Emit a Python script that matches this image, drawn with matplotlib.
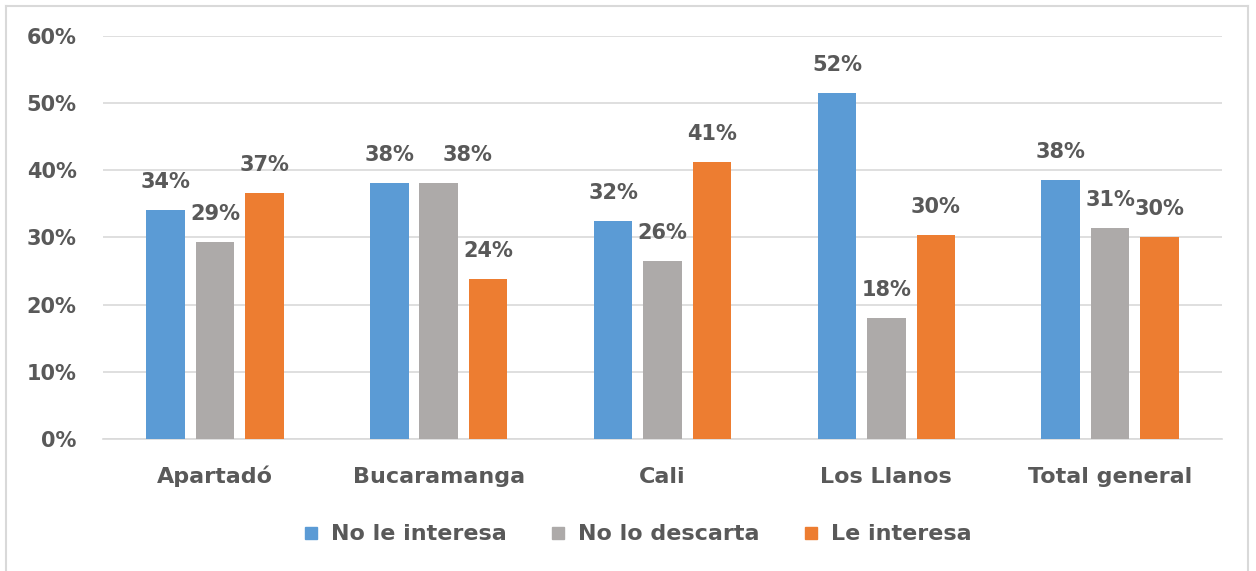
import numpy as np
import matplotlib.pyplot as plt
from matplotlib.lines import Line2D
from matplotlib.ticker import MultipleLocator, PercentFormatter

plt.rcParams['font.family'] = ['DejaVu Sans']

categories = ["Apartadó", "Bucaramanga", "Cali", "Los Llanos", "Total general"]
series = ["No le interesa", "No lo descarta", "Le interesa"]
no_le_interesa = [34.1, 38.1, 32.4, 51.5, 38.5]
no_lo_descarta = [29.3, 38.1, 26.5, 18.0, 31.4]
le_interesa = [36.6, 23.8, 41.2, 30.3, 30.0]
labels = [[34, 38, 32, 52, 38], [29, 38, 26, 18, 31], [37, 24, 41, 30, 30]]

colors = ['#5B9BD5', '#ADAAA9', '#ED7D31']
text_col = '#595959'

fig = plt.figure(figsize=(12.56, 5.71), dpi=100)
ax = fig.add_axes([0.082, 0.2312, 0.891, 0.7058])

x = np.arange(len(categories))
width = 0.172
offsets = [-0.221, 0, 0.221]
data = [no_le_interesa, no_lo_descarta, le_interesa]
# Excel pushed one label sideways to avoid overlap
nudge = {(1, 1): 21}

for i, vals in enumerate(data):
    bars = ax.bar(x + offsets[i], vals, width, color=colors[i], label=series[i], zorder=3)
    for j, (b, lab) in enumerate(zip(bars, labels[i])):
        ax.annotate(f"{lab}%", (b.get_x() + b.get_width() / 2, b.get_height()),
                    xytext=(nudge.get((i, j), 0), 13), textcoords='offset points',
                    ha='center', va='bottom', fontsize=15, fontweight='bold', color=text_col)

ax.set_xlim(-0.5, 4.5)
ax.set_ylim(0, 60)
ax.yaxis.set_major_locator(MultipleLocator(10))
ax.yaxis.set_major_formatter(PercentFormatter(decimals=0))
ax.grid(axis='y', color='#D9D9D9', linewidth=1.2, zorder=0)
for s in ['top', 'right', 'left']:
    ax.spines[s].set_visible(False)
ax.spines['bottom'].set_color('#D9D9D9')
ax.spines['bottom'].set_linewidth(1.2)
ax.tick_params(axis='y', length=0, pad=19, labelsize=15, labelcolor=text_col)
ax.tick_params(axis='x', length=0, pad=32, labelsize=16, labelcolor=text_col)
for t in ax.get_yticklabels():
    t.set_fontweight('bold')
ax.set_xticks(x)
ax.set_xticklabels(categories, fontweight='bold', va='baseline')

handles = [Line2D([], [], marker='s', linestyle='', markersize=9, color=c) for c in colors]
leg = fig.legend(handles, series, loc='center', bbox_to_anchor=(0.506, 0.064), ncol=3,
                 frameon=False, handletextpad=0.4, columnspacing=1.8, handlelength=1.0,
                 prop={'size': 16, 'weight': 'bold'})
for t in leg.get_texts():
    t.set_color(text_col)

# chart frame
fig.add_artist(Line2D([6 / 1256, 6 / 1256], [0, 1 - 6 / 571], color='#D9D9D9', lw=1.5))
fig.add_artist(Line2D([6 / 1256, 1248 / 1256], [1 - 6 / 571, 1 - 6 / 571], color='#D9D9D9', lw=1.5))
fig.add_artist(Line2D([1248 / 1256, 1248 / 1256], [0, 1 - 6 / 571], color='#D9D9D9', lw=1.5))

plt.savefig('out.png', dpi=100)
